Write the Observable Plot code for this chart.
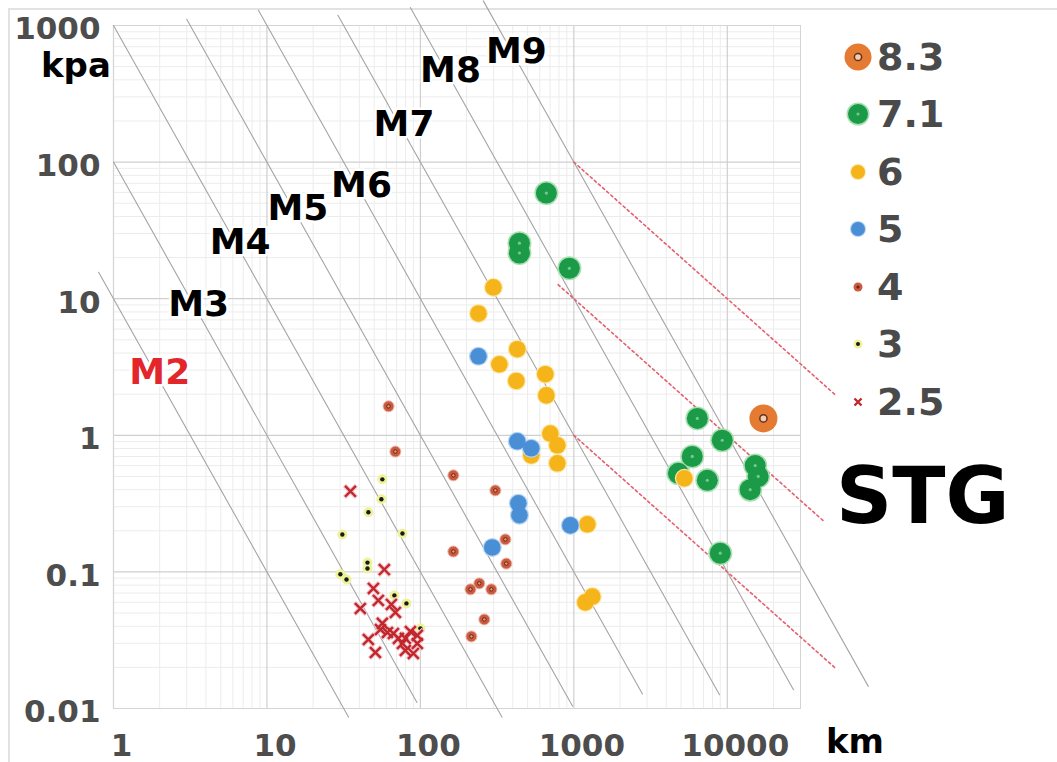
<!DOCTYPE html>
<html>
<head>
<meta charset="utf-8">
<script src="https://cdn.jsdelivr.net/npm/d3@7"></script>
<script src="https://cdn.jsdelivr.net/npm/@observablehq/plot@0.6"></script>
<style>
  html, body { margin: 0; padding: 0; background: #fff; }
  #wrap { position: relative; width: 1057px; height: 762px; overflow: hidden; font-family: "DejaVu Sans", sans-serif; font-weight: bold; }
  #border { position: absolute; left: 8px; top: 8px; right: 0; bottom: 0; border-left: 2px solid #e2e2e2; border-top: 2px solid #e2e2e2; }
  #chart { position: absolute; left: 0; top: 0; }
  .lbl { position: absolute; line-height: 1; white-space: nowrap; }
  #legend { position: absolute; left: 843px; top: 28px; }
  .row { display: flex; align-items: center; height: 57.5px; }
  .row svg { width: 30px; height: 30px; flex: none; }
  .row span { margin-left: 4px; font-size: 38px; line-height: 1; color: #4a4a4a; }
</style>
</head>
<body>
<div id="wrap">
  <div id="border"></div>
  <div id="chart"></div>
  <div class="lbl" style="left:41px;top:48px;font-size:34px;color:#000">kpa</div>
  <div class="lbl" style="left:826px;top:724px;font-size:34px;color:#000">km</div>
  <div class="lbl" style="left:836px;top:457px;font-size:78px;color:#000">STG</div>
  <div id="legend"></div>
</div>
<script>
// Axis ticks (km, kpa)
const xTicks = [1, 10, 100, 1000, 10000];
const yTicks = [0.01, 0.1, 1, 10, 100, 1000];

// Magnitude reference lines: pressure = k / distance^2
const magnitudes = ["M2", "M3", "M4", "M5", "M6", "M7", "M8", "M9"];
const lineConst = [1e1, 1e2, 1e3, 1e4, 1e5, 1e6, 1e7, 1e8];
const lineFromKm = [0.8, 1, 1, 3, 8.8, 29, 86, 257];
const lineToKm = [34, 95, 340, 980, 2800, 8900, 27000, 83000];
const labelKpa = [2.9, 9, 26, 46, 68, 190, 470, 650];

// Dotted red bounds: pressure = k / distance
const boundConst = [1e5, 1e4, 1e3];
const boundFromKm = [1000, 790, 1000];
const boundToKm = [50000, 42000, 50000];

// Observations by magnitude
const m83Km = [17200];
const m83Kpa = [1.33];
const m71Km = [662, 442, 442, 935, 6380, 9270, 5910, 4800, 7410, 15200, 15900, 14100, 9000];
const m71Kpa = [59.3, 25.5, 21.6, 16.7, 1.33, 0.92, 0.70, 0.527, 0.468, 0.60, 0.50, 0.40, 0.137];
const m6Km = [299, 239, 428, 327, 422, 652, 662, 703, 781, 781, 528, 1225, 1188, 1320, 5250];
const m6Kpa = [12.1, 7.8, 4.27, 3.31, 2.5, 2.8, 1.96, 1.03, 0.845, 0.624, 0.713, 0.223, 0.0598, 0.066, 0.484];
const m5Km = [239, 428, 528, 435, 442, 949, 294];
const m5Kpa = [3.79, 0.904, 0.803, 0.318, 0.26, 0.219, 0.151];
const m4Km = [62, 68.7, 164, 308, 358, 164, 363, 242, 212, 290, 261, 215];
const m4Kpa = [1.63, 0.76, 0.509, 0.395, 0.173, 0.141, 0.115, 0.0824, 0.0745, 0.0745, 0.0449, 0.0337];
const m3Km = [56.5, 55.7, 45.8, 31.0, 76.4, 45.2, 45.2, 30.1, 33.0, 67.7, 81.1, 100];
const m3Kpa = [0.476, 0.34, 0.273, 0.188, 0.191, 0.117, 0.106, 0.096, 0.088, 0.0673, 0.0588, 0.0386];
const m25Km = [35.0, 58.2, 49.4, 53.2, 40.6, 64.7, 68.7, 56.5, 54.9, 61.0, 66.7, 71.9, 86.1, 95.5, 79.8, 45.8, 76.4, 95.5, 79.8, 90.0, 50.9];
const m25Kpa = [0.389, 0.104, 0.0757, 0.0618, 0.054, 0.0578, 0.0505, 0.042, 0.0379, 0.036, 0.0354, 0.0326, 0.0366, 0.0343, 0.0326, 0.032, 0.0299, 0.0299, 0.0266, 0.0253, 0.0257];

const pts = (xs, ys) => xs.map((x, i) => ({x, y: ys[i]}));
const s83 = pts(m83Km, m83Kpa), s71 = pts(m71Km, m71Kpa), s6 = pts(m6Km, m6Kpa),
      s5 = pts(m5Km, m5Kpa), s4 = pts(m4Km, m4Kpa), s3 = pts(m3Km, m3Kpa), s25 = pts(m25Km, m25Kpa);

const magLines = magnitudes.flatMap((m, i) => [lineFromKm[i], lineToKm[i]].map(x => ({m, x, y: lineConst[i] / (x * x)})));
const magLabels = magnitudes.map((m, i) => ({m, y: labelKpa[i], x: Math.sqrt(lineConst[i] / labelKpa[i])}));
const bounds = boundConst.flatMap((k, i) => [boundFromKm[i], boundToKm[i]].map(x => ({k, x, y: k / x})));

// grid: decades plus 2..9 subdivisions
const xMinor = d3.range(0, 5).flatMap(e => d3.range(2, 10).map(k => k * 10 ** e)).filter(v => v < 30000);
const yMinor = d3.range(-2, 3).flatMap(e => d3.range(2, 10).map(k => +(k * 10 ** e).toPrecision(3)));

const fmt = d => String(d);

const chart = Plot.plot({
  width: 1057,
  height: 762,
  marginLeft: 113,
  marginTop: 25,
  marginRight: 257,
  marginBottom: 54,
  x: {type: "log", domain: [1, 30000]},
  y: {type: "log", domain: [0.01, 1000]},
  style: {fontFamily: "DejaVu Sans", fontWeight: "bold", fontSize: "31px", background: "transparent", overflow: "visible"},
  marks: [
    Plot.ruleX(xMinor, {stroke: "#ececec", strokeWidth: 1}),
    Plot.ruleY(yMinor, {stroke: "#ececec", strokeWidth: 1}),
    Plot.ruleX(xTicks, {stroke: "#cfcfcf", strokeWidth: 1.2}),
    Plot.ruleY(yTicks, {stroke: "#cfcfcf", strokeWidth: 1.2}),
    Plot.frame({stroke: "#d4d4d4"}),
    Plot.axisX({ticks: xTicks, tickSize: 0, tickPadding: 25, dx: 8, tickFormat: fmt, fontSize: 31, fill: "#4d4d4d", label: null}),
    Plot.axisY({ticks: yTicks, tickSize: 0, tickPadding: 13, dy: 4, tickFormat: fmt, fontSize: 31, fill: "#4d4d4d", label: null}),
    Plot.line(magLines, {x: "x", y: "y", z: "m", stroke: "#a4a4a4", strokeWidth: 1.1}),
    Plot.line(bounds, {x: "x", y: "y", z: "k", stroke: "#e2606f", strokeWidth: 1.6, strokeDasharray: "2.5,3"}),
    // 8.3
    Plot.dot(s83, {x: "x", y: "y", r: 14, fill: "#e57a32"}),
    Plot.dot(s83, {x: "x", y: "y", r: 3.6, fill: "#f6ccae", stroke: "#5b3322", strokeWidth: 1.5}),
    // 7.1
    Plot.dot(s71, {x: "x", y: "y", r: 12, fill: "#a8e0b2"}),
    Plot.dot(s71, {x: "x", y: "y", r: 10.5, fill: "#1b9a48"}),
    Plot.dot(s71, {x: "x", y: "y", r: 1.6, fill: "#74c98f"}),
    // 6
    Plot.dot(s6, {x: "x", y: "y", r: 9.5, fill: "#fde6a6"}),
    Plot.dot(s6, {x: "x", y: "y", r: 8.3, fill: "#f4b41a"}),
    // 5
    Plot.dot(s5, {x: "x", y: "y", r: 9.5, fill: "#b5d4f2"}),
    Plot.dot(s5, {x: "x", y: "y", r: 8.3, fill: "#4a8fd6"}),
    // 4
    Plot.dot(s4, {x: "x", y: "y", r: 5.5, fill: "#c95b3f", stroke: "#f0b4a8", strokeWidth: 1}),
    Plot.dot(s4, {x: "x", y: "y", r: 1.8, fill: "#e58f78", stroke: "#6e2312", strokeWidth: 1}),
    // 3
    Plot.dot(s3, {x: "x", y: "y", r: 5, fill: "#eef39a"}),
    Plot.dot(s3, {x: "x", y: "y", r: 2.2, fill: "#1a1a1a"}),
    // 2.5
    Plot.dot(s25, {x: "x", y: "y", r: 5.5, symbol: "times", stroke: "#f4c6cc", strokeWidth: 4.5}),
    Plot.dot(s25, {x: "x", y: "y", r: 5, symbol: "times", stroke: "#c0282d", strokeWidth: 2.4}),
    // magnitude labels on their lines
    Plot.text(magLabels, {x: "x", y: "y", text: "m", dx: 5, fontSize: 36, fontWeight: "bold",
      fill: d => d.m === "M2" ? "#e3262b" : "#000", stroke: "#fff", strokeWidth: 5, paintOrder: "stroke"})
  ]
});
document.getElementById("chart").appendChild(chart);

// legend
const legendItems = ["8.3", "7.1", "6", "5", "4", "3", "2.5"];
const legendSymbols = [
  '<circle r="13.5" fill="#e57a32"/><circle r="3.6" fill="#f6ccae" stroke="#5b3322" stroke-width="1.5"/>',
  '<circle r="11.5" fill="#a8e0b2"/><circle r="10" fill="#1b9a48"/><circle r="1.6" fill="#74c98f"/>',
  '<circle r="8" fill="#fde6a6"/><circle r="7" fill="#f4b41a"/>',
  '<circle r="8" fill="#b5d4f2"/><circle r="7" fill="#4a8fd6"/>',
  '<circle r="4.5" fill="#c95b3f"/><circle r="1.6" fill="#6e2312"/>',
  '<circle r="4.5" fill="#eef39a"/><circle r="2" fill="#1a1a1a"/>',
  '<path d="M-3.5,-3.5L3.5,3.5M3.5,-3.5L-3.5,3.5" stroke="#c0282d" stroke-width="2.4"/>'
];
const legend = document.getElementById("legend");
legendItems.forEach((t, i) => {
  const row = document.createElement("div");
  row.className = "row";
  row.innerHTML = `<svg viewBox="-15 -15 30 30">${legendSymbols[i]}</svg><span>${t}</span>`;
  legend.appendChild(row);
});
</script>
</body>
</html>
